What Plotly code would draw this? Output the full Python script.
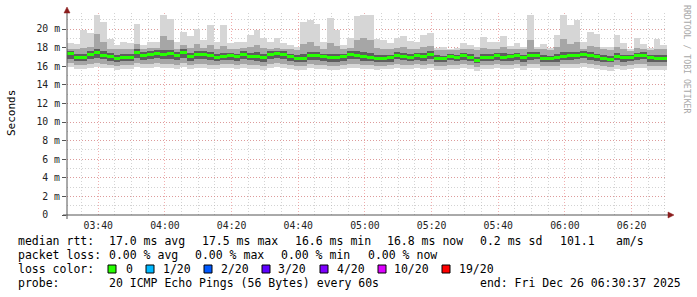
import plotly.graph_objects as go
import pandas as pd

# ---------------- data ----------------
time_start = "2025-12-26 03:30:37"
time_end = "2025-12-26 06:30:37"
first_center = "2025-12-26 03:31:37"
step_minutes = 2

median_ms = [17.35, 16.93, 16.93, 17.30, 17.50, 17.20, 17.00, 16.85, 16.97, 16.97, 17.50, 17.15, 17.28, 17.35, 17.25, 17.35, 17.15, 17.45, 17.05, 17.30, 17.30, 17.10, 16.97,
             17.05, 17.10, 17.00, 17.30, 17.08, 17.05, 16.93, 17.28, 17.35, 17.25, 17.00, 16.80, 16.85, 17.10, 17.10, 17.00, 16.90, 16.90, 17.00, 17.25, 17.20, 17.00,
             16.95, 16.85, 16.85, 16.90, 17.20, 17.05, 16.95, 17.10, 17.00, 17.30, 16.85, 16.85, 17.05, 16.95, 17.10, 16.95, 16.65, 16.95, 16.97, 17.10, 16.97, 17.00, 17.10,
             16.90, 17.10, 17.20, 16.85, 16.80, 16.90, 17.08, 17.10, 17.15, 17.30, 17.15, 17.00, 16.85, 16.75, 17.05, 16.90, 16.95, 17.10, 17.20, 16.90, 16.85, 16.85]

max_ms = [18.5, 18.4, 19.9, 19.6, 21.5, 20.8, 18.9, 18.3, 18.6, 18.5, 20.5, 18.3, 18.6, 18.6, 21.5, 21.1, 18.6, 19.7, 19.2, 20.0, 18.8, 20.4, 18.6,
          20.4, 18.5, 18.55, 18.6, 19.4, 19.9, 19.0, 18.6, 19.0, 18.5, 18.3, 18.1, 20.7, 21.0, 20.5, 18.6, 21.2, 19.9, 18.3, 19.0, 21.4, 21.5,
          21.5, 18.9, 18.8, 18.5, 19.0, 19.2, 18.7, 18.6, 19.4, 19.6, 18.0, 18.05, 17.9, 18.0, 18.5, 18.3, 18.05, 19.1, 18.6, 18.6, 19.3, 18.2, 18.5,
          18.1, 21.5, 18.1, 18.4, 18.0, 19.4, 21.5, 20.4, 21.0, 18.6, 19.7, 19.5, 18.1, 18.1, 19.4, 18.5, 17.9, 19.0, 18.4, 18.0, 18.9, 18.3]

hi2_ms = [17.9, 17.8, 18.0, 18.1, 19.5, 18.6, 17.9, 17.8, 17.9, 17.8, 18.4, 17.9, 18.0, 18.0, 19.2, 18.8, 17.9, 18.3, 18.0, 18.4, 18.0, 18.3, 17.9,
          18.2, 17.9, 17.9, 18.0, 18.1, 18.3, 18.0, 17.9, 18.0, 17.9, 17.8, 17.7, 18.4, 18.6, 18.2, 17.9, 18.5, 18.2, 17.8, 18.0, 18.8, 19.0,
          18.8, 18.0, 17.9, 17.8, 18.0, 18.1, 17.9, 17.9, 18.1, 18.2, 17.7, 17.7, 17.7, 17.7, 17.9, 17.8, 17.7, 18.0, 17.9, 17.9, 18.1, 17.8, 17.9,
          17.8, 18.8, 17.8, 17.8, 17.7, 18.1, 18.9, 18.4, 18.6, 17.9, 18.2, 18.1, 17.8, 17.7, 18.1, 17.8, 17.6, 18.0, 17.9, 17.7, 17.9, 17.8]

hi1_ms = [17.6, 17.3, 17.3, 17.6, 17.8, 17.6, 17.4, 17.2, 17.3, 17.3, 17.8, 17.5, 17.6, 17.7, 17.7, 17.7, 17.5, 17.8, 17.4, 17.6, 17.6, 17.5, 17.3,
          17.4, 17.4, 17.3, 17.6, 17.4, 17.5, 17.3, 17.6, 17.6, 17.6, 17.3, 17.2, 17.3, 17.5, 17.5, 17.3, 17.3, 17.3, 17.3, 17.6, 17.6, 17.5,
          17.4, 17.2, 17.2, 17.2, 17.5, 17.4, 17.3, 17.4, 17.4, 17.6, 17.2, 17.1, 17.3, 17.2, 17.4, 17.3, 17.0, 17.3, 17.3, 17.4, 17.4, 17.3, 17.4,
          17.2, 17.5, 17.5, 17.2, 17.1, 17.3, 17.5, 17.5, 17.5, 17.6, 17.5, 17.3, 17.2, 17.1, 17.4, 17.2, 17.2, 17.4, 17.5, 17.2, 17.2, 17.2]

lo1_ms = [16.8, 16.6, 16.6, 16.8, 16.9, 16.8, 16.6, 16.5, 16.6, 16.6, 16.9, 16.7, 16.8, 16.9, 16.8, 16.8, 16.7, 16.9, 16.6, 16.8, 16.8, 16.7, 16.6,
          16.7, 16.7, 16.6, 16.8, 16.7, 16.6, 16.5, 16.8, 16.9, 16.8, 16.6, 16.4, 16.5, 16.7, 16.7, 16.6, 16.5, 16.5, 16.6, 16.8, 16.8, 16.6,
          16.6, 16.5, 16.5, 16.5, 16.8, 16.7, 16.6, 16.7, 16.6, 16.8, 16.5, 16.5, 16.7, 16.6, 16.7, 16.6, 16.3, 16.6, 16.6, 16.7, 16.6, 16.6, 16.7,
          16.5, 16.7, 16.8, 16.5, 16.4, 16.5, 16.7, 16.7, 16.8, 16.9, 16.7, 16.6, 16.5, 16.4, 16.7, 16.5, 16.6, 16.7, 16.8, 16.5, 16.5, 16.5]

lo2_ms = [16.3, 16.1, 16.1, 16.2, 16.3, 16.2, 16.1, 16.0, 16.1, 16.1, 16.3, 16.2, 16.2, 16.3, 16.2, 16.2, 16.1, 16.3, 16.1, 16.2, 16.2, 16.1, 16.1,
          16.2, 16.2, 16.1, 16.2, 16.1, 16.1, 16.0, 16.2, 16.3, 16.2, 16.1, 16.0, 16.0, 16.2, 16.1, 16.1, 16.0, 16.0, 16.1, 16.2, 16.2, 16.1,
          16.1, 16.0, 16.0, 16.1, 16.2, 16.1, 16.1, 16.2, 16.1, 16.2, 16.0, 16.0, 16.1, 16.1, 16.2, 16.1, 15.9, 16.1, 16.1, 16.2, 16.1, 16.1, 16.2,
          16.0, 16.2, 16.2, 16.0, 16.0, 16.0, 16.2, 16.2, 16.2, 16.3, 16.2, 16.1, 16.0, 15.9, 16.1, 16.0, 16.1, 16.2, 16.2, 16.0, 16.0, 16.0]

min_ms = [15.9, 15.7, 15.7, 15.8, 15.9, 15.8, 15.8, 15.6, 15.7, 15.7, 15.9, 15.8, 15.8, 15.9, 15.8, 15.8, 15.7, 15.9, 15.7, 15.8, 15.8, 15.7, 15.7,
          15.8, 15.8, 15.7, 15.8, 15.7, 15.7, 15.6, 15.8, 15.9, 15.8, 15.7, 15.6, 15.6, 15.8, 15.7, 15.7, 15.6, 15.6, 15.7, 15.8, 15.8, 15.7,
          15.7, 15.6, 15.7, 15.7, 15.8, 15.7, 15.7, 15.8, 15.7, 15.8, 15.6, 15.6, 15.7, 15.7, 15.8, 15.7, 15.5, 15.7, 15.7, 15.8, 15.7, 15.7, 15.8,
          15.6, 15.8, 15.8, 15.6, 15.6, 15.6, 15.8, 15.8, 15.8, 15.9, 15.8, 15.7, 15.6, 15.5, 15.7, 15.6, 15.7, 15.8, 15.8, 15.6, 15.6, 15.6]

y_tick_vals = [0, 2, 4, 6, 8, 10, 12, 14, 16, 18, 20]
y_tick_text = ["0\u00a0\u00a0", "2 m", "4 m", "6 m", "8 m", "10 m", "12 m", "14 m", "16 m", "18 m", "20 m"]

stats_rtt = ["median rtt:", "17.0 ms avg", "17.5 ms max", "16.6 ms min", "16.8 ms now", "0.2 ms sd", "101.1", "am/s"]
stats_loss = ["packet loss:", "0.00 % avg", "0.00 % max", "0.00 % min", "0.00 % now"]
loss_labels = ["0", "1/20", "2/20", "3/20", "4/20", "10/20", "19/20"]
loss_colors = ["#26ff00", "#00b8ff", "#0059ff", "#5e00ff", "#7e00ff", "#dd00ff", "#ff0000"]
probe_text = ["probe:", "20 ICMP Echo Pings (56 Bytes) every 60s", "end: Fri Dec 26 06:30:37 2025"]

# ---------------- geometry ----------------
W, H = 697, 297
L, R, T, B = 67, 667, 13, 215
FONT = "DejaVu Sans Mono"


def px(x):
    return (x - L) / (R - L)


def py(y):
    return (B - y) / (B - T)


times = pd.date_range(first_center, periods=len(median_ms), freq=f"{step_minutes}min")
bar_w = step_minutes * 60 * 1000

fig = go.Figure()


def band(lo, hi, color):
    fig.add_trace(go.Bar(
        x=times, base=lo, y=[h - l for h, l in zip(hi, lo)], width=bar_w,
        marker=dict(color=color, line=dict(width=0)), hoverinfo="skip", showlegend=False))


band(min_ms, max_ms, "#d6d6d6")
band(lo2_ms, hi2_ms, "#a6a6a6")
band(lo1_ms, hi1_ms, "#5e5e5e")
fig.add_trace(go.Bar(
    x=times, base=[m - 0.16 for m in median_ms], y=[0.32] * len(median_ms), width=bar_w,
    marker=dict(color=loss_colors[0], line=dict(width=0)), hoverinfo="skip", showlegend=False))

major_grid = "rgba(230,110,110,0.55)"
minor_grid = "rgba(175,175,175,0.55)"
dots = "1px,2px"

fig.update_layout(
    width=W, height=H, autosize=False,
    margin=dict(l=L, r=W - R, t=T, b=H - B, pad=0),
    paper_bgcolor="white", plot_bgcolor="white",
    barmode="overlay", bargap=0,
    font=dict(family=FONT, color="black"),
    xaxis=dict(
        type="date", range=[time_start, time_end],
        tick0="2025-12-26 03:40:00", dtick=20 * 60 * 1000, tickformat="%H:%M",
        showgrid=True, gridcolor=major_grid, griddash=dots, gridwidth=1,
        minor=dict(dtick=5 * 60 * 1000, tick0="2025-12-26 03:40:00", showgrid=True,
                   gridcolor=minor_grid, griddash=dots, gridwidth=1),
        ticks="", ticklabelstandoff=3, tickfont=dict(size=9.8, family=FONT, color="#222"),
        showline=False, zeroline=False, fixedrange=True),
    yaxis=dict(
        range=[0, (B - T) / 9.3], tickvals=y_tick_vals, ticktext=y_tick_text,
        showgrid=True, gridcolor=major_grid, griddash=dots, gridwidth=1,
        minor=dict(dtick=1, showgrid=True, gridcolor=minor_grid, griddash=dots, gridwidth=1),
        ticks="outside", ticklen=4, tickcolor="#555", tickwidth=1,
        tickfont=dict(size=9.8, family=FONT, color="#222"),
        showline=False, zeroline=False, fixedrange=True),
)

shapes = []
# axes lines with arrows
shapes.append(dict(type="line", xref="paper", yref="paper", x0=px(63), x1=px(670), y0=0, y1=0,
                   line=dict(color="#555", width=1)))
shapes.append(dict(type="line", xref="paper", yref="paper", x0=0, x1=0, y0=py(219), y1=py(11),
                   line=dict(color="#555", width=1)))
shapes.append(dict(type="path", xref="paper", yref="paper",
                   path=f"M {px(668)} {py(212)} L {px(674)} {py(215)} L {px(668)} {py(218)} Z",
                   fillcolor="#8b1c1c", line=dict(color="#8b1c1c", width=0.5)))
shapes.append(dict(type="path", xref="paper", yref="paper",
                   path=f"M {px(64)} {py(13)} L {px(67)} {py(7)} L {px(70)} {py(13)} Z",
                   fillcolor="#8b1c1c", line=dict(color="#8b1c1c", width=0.5)))

annotations = []


def text(s, x, y, size=11.5, color="black", anchor="left", angle=0):
    annotations.append(dict(text=s, x=px(x), y=py(y), xref="paper", yref="paper",
                            xanchor=anchor, yanchor="middle", showarrow=False, textangle=angle,
                            font=dict(family=FONT, size=size, color=color)))


# axis title and watermark
text("Seconds", 11, 113, size=11, anchor="center", angle=-90)
text("RRDTOOL / TOBI OETIKER", 687, 59, size=8.2, color="#a8a8a8", anchor="center", angle=90)

# line 1
rtt_x = [16, 107, 200, 293, 385, 478, 558, 614]
for s, x in zip(stats_rtt, rtt_x):
    text(s, x, 241)
# line 2
loss_x = [16, 107, 193, 279, 366]
for s, x in zip(stats_loss, loss_x):
    text(s, x, 255)
# line 3
text("loss color:", 16, 269)
sq_x = [108, 146, 204, 262, 320, 378, 442]
lab_x = [124, 161, 219, 276, 335, 392, 457]
for lab, col, sx, lx in zip(loss_labels, loss_colors, sq_x, lab_x):
    shapes.append(dict(type="rect", xref="paper", yref="paper",
                       x0=px(sx), x1=px(sx + 8), y0=py(273), y1=py(265),
                       fillcolor=col, line=dict(color="black", width=1)))
    text(lab, lx, 269)
# line 4
text(probe_text[0], 16, 283)
text(probe_text[1], 107, 283)
text(probe_text[2], 478, 283)

fig.update_layout(shapes=shapes, annotations=annotations)
fig.write_html("out.html", config={"displayModeBar": False})
